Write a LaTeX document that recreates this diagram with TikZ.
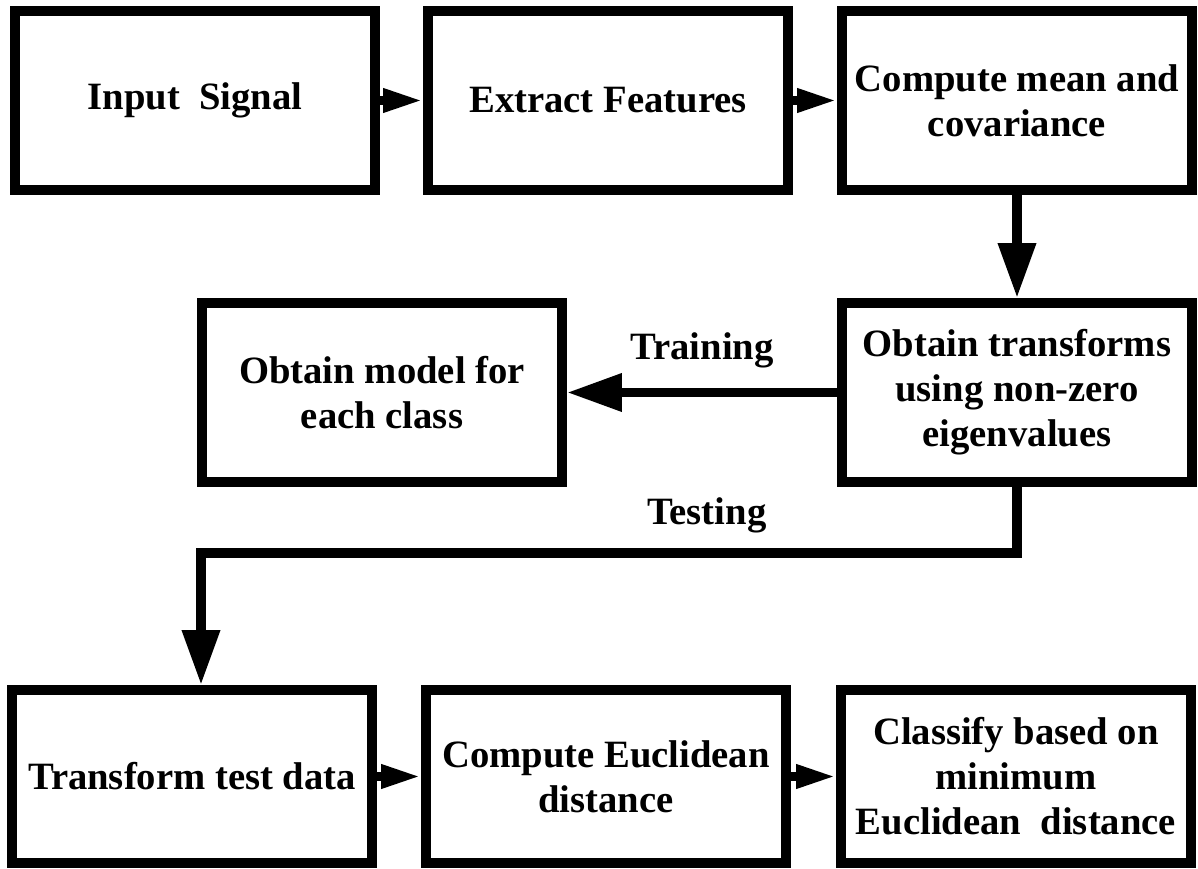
\documentclass[tikz,border=0pt]{standalone}
\usepackage{fontspec}
\setmainfont{Liberation Serif}
\usepackage{tikz}
\usetikzlibrary{arrows.meta, calc}

\begin{document}
\begin{tikzpicture}[font=\bfseries\fontsize{11}{12.8}\selectfont,
    link/.style={line width=2.6pt, -{Triangle[length=4mm, width=2.2mm]}},
    flow/.style={line width=2.8pt, -{Triangle[length=5.5mm, width=3.6mm]}}]
\useasboundingbox (0,0) rectangle (11.98,8.69);

\begin{scope}[every node/.style={rectangle, draw, line width=2.8pt, align=center,
        minimum width=3.6cm, minimum height=1.79cm, inner sep=2pt}]
    \node(in) at (1.95, 7.685) {Input~~Signal};
    \node(feat) at (6.08, 7.685) {Extract Features};
    \node[minimum width=3.5cm](mean) at (10.17, 7.685) {Compute mean and\\covariance};
    \node[minimum width=3.5cm](trans) at (10.17, 4.765) {Obtain transforms\\using non-zero\\eigenvalues};
    \node(model) at (3.82, 4.765) {Obtain model for\\each class};
    \node[minimum height=1.73cm](test) at (1.92, 0.925) {Transform test data};
    \node[minimum height=1.73cm](euc) at (6.06, 0.925) {Compute Euclidean\\distance};
    \node[minimum width=3.5cm, minimum height=1.73cm](cls) at (10.16, 0.925) {Classify based on\\minimum\\Euclidean~~distance};
\end{scope}

\draw[link] (in) -- (feat);
\draw[link] (feat) -- (mean);
\draw[flow] (mean) -- (trans);
\draw[flow] (trans) -- (model) node[midway, above=0.8mm] {Training};
\draw[flow] (trans.south) -- ++(0,-0.66) -| ([xshift=0.09cm]test.north)
    node[pos=0.19, above=0.3mm] {Testing};
\draw[link] (test) -- (euc);
\draw[link] (euc) -- (cls);
\end{tikzpicture}
\end{document}
